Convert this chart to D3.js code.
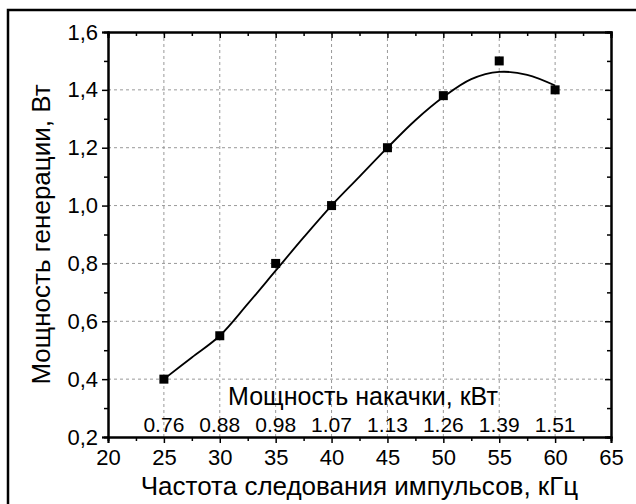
<!DOCTYPE html>
<html>
<head>
<meta charset="utf-8">
<script src="https://cdn.jsdelivr.net/npm/d3@7"></script>
<style>
  body { margin: 0; background: #fff; }
  svg { display: block; font-family: "Liberation Sans", Arial, sans-serif; }
</style>
</head>
<body>
<svg id="chart" width="636" height="504"></svg>
<script>
// measured points
var freq = [25, 30, 35, 40, 45, 50, 55, 60];
var power = [0.40, 0.55, 0.80, 1.00, 1.20, 1.38, 1.50, 1.40];
var pump = ["0.76", "0.88", "0.98", "1.07", "1.13", "1.26", "1.39", "1.51"];

// fitted curve
var fitX = [25, 27.5, 30, 32.5, 35, 37.5, 40, 42.5, 45, 47.5, 50, 52.5, 55, 57.5, 60];
var fitY = [0.40, 0.475, 0.55, 0.66, 0.775, 0.89, 1.00, 1.10, 1.20, 1.295, 1.375, 1.437, 1.462, 1.452, 1.415];

var xTicks = [20, 25, 30, 35, 40, 45, 50, 55, 60, 65];
var yTicks = [0.2, 0.4, 0.6, 0.8, 1.0, 1.2, 1.4, 1.6];

var svg = d3.select("#chart"),
  mLeft = 108, mRight = 611, mTop = 32, mBottom = 437;

var x = d3.scaleLinear().domain([20, 65]).range([mLeft, mRight]),
  y = d3.scaleLinear().domain([0.2, 1.6]).range([mBottom, mTop]);

var xMinor = d3.range(22.5, 65, 5),
  yMinor = d3.range(0.3, 1.6, 0.2);

// outer frame
svg.append("rect")
  .attr("x", 8).attr("y", 10)
  .attr("width", 660).attr("height", 520)
  .attr("fill", "none").attr("stroke", "#000").attr("stroke-width", 2.5);

// grid
var grid = svg.append("g")
  .attr("stroke", "#999").attr("stroke-width", 1).attr("stroke-dasharray", "3,3");
grid.selectAll(".gx").data(xTicks.slice(1, -1)).enter().append("line")
  .attr("x1", d => x(d)).attr("x2", d => x(d))
  .attr("y1", mTop).attr("y2", mBottom);
grid.selectAll(".gy").data(yTicks.slice(1, -1)).enter().append("line")
  .attr("y1", d => y(d)).attr("y2", d => y(d))
  .attr("x1", mLeft).attr("x2", mRight);

function fmtComma(d) { return d3.format(".1f")(d).replace(".", ","); }

// bottom axis
var gx = svg.append("g").attr("transform", "translate(0," + mBottom + ")")
  .call(d3.axisBottom(x).tickValues(xTicks).tickSize(6).tickPadding(6).tickFormat(d3.format("d")));
gx.append("g").call(d3.axisBottom(x).tickValues(xMinor).tickSize(4).tickFormat(""));

// top axis, ticks inward
var gt = svg.append("g").attr("transform", "translate(0," + mTop + ")")
  .call(d3.axisTop(x).tickValues(xTicks).tickSize(-6).tickFormat(""));
gt.append("g").call(d3.axisTop(x).tickValues(xMinor).tickSize(-4).tickFormat(""));

// left axis
var gy = svg.append("g").attr("transform", "translate(" + mLeft + ",0)")
  .call(d3.axisLeft(y).tickValues(yTicks).tickSize(6).tickPadding(4).tickFormat(fmtComma));
gy.append("g").call(d3.axisLeft(y).tickValues(yMinor).tickSize(4).tickFormat(""));

// right axis, ticks inward
var gr = svg.append("g").attr("transform", "translate(" + mRight + ",0)")
  .call(d3.axisRight(y).tickValues(yTicks).tickSize(-6).tickFormat(""));
gr.append("g").call(d3.axisRight(y).tickValues(yMinor).tickSize(-4).tickFormat(""));

svg.selectAll(".domain").attr("stroke", "#000").attr("stroke-width", 2);
svg.selectAll(".tick line").attr("stroke", "#000").attr("stroke-width", 1.5);
svg.selectAll(".tick text").attr("fill", "#000")
  .style("font-size", "22px").style("font-family", "'Liberation Sans', Arial, sans-serif");

// pump power labels
svg.append("g").selectAll("text").data(pump).enter().append("text")
  .attr("x", (d, i) => x(freq[i])).attr("y", 432)
  .attr("text-anchor", "middle")
  .style("font-size", "21px")
  .text(d => d);

svg.append("text")
  .attr("x", 363).attr("y", 405)
  .attr("text-anchor", "middle")
  .style("font-size", "25px")
  .text("Мощность накачки, кВт");

// fit curve
var fit = fitX.map((d, i) => [d, fitY[i]]);
svg.append("path")
  .datum(fit)
  .attr("fill", "none").attr("stroke", "#000").attr("stroke-width", 1.8)
  .attr("d", d3.line().x(d => x(d[0])).y(d => y(d[1])).curve(d3.curveCatmullRom));

// markers
svg.append("g").selectAll("rect").data(freq).enter().append("rect")
  .attr("x", (d, i) => x(d) - 4.5).attr("y", (d, i) => y(power[i]) - 4.5)
  .attr("width", 9).attr("height", 9)
  .attr("fill", "#000");

// axis titles
svg.append("text")
  .attr("x", (mLeft + mRight) / 2).attr("y", 495)
  .attr("text-anchor", "middle")
  .style("font-size", "26px")
  .text("Частота следования импульсов, кГц");

svg.append("text")
  .attr("transform", "translate(50," + (mTop + mBottom) / 2 + ") rotate(-90)")
  .attr("text-anchor", "middle")
  .style("font-size", "26px")
  .text("Мощность генерации, Вт");
</script>
</body>
</html>
